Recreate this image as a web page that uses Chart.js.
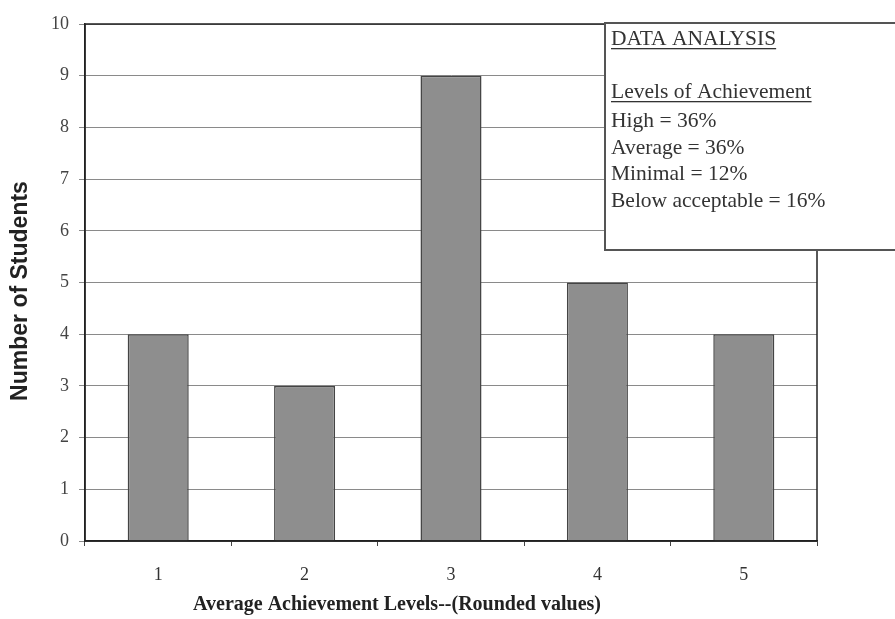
<!DOCTYPE html>
<html><head><meta charset="utf-8">
<script src="https://cdn.jsdelivr.net/npm/chart.js@4"></script>
<style>html,body{margin:0;padding:0;background:#fff}#wrap{width:895px;height:619px}</style>
</head><body><div id="wrap"><canvas id="c" width="895" height="619"></canvas></div>
<script>
const categories = ["1", "2", "3", "4", "5"];
const students = [4, 3, 9, 5, 4];
const yAxisTitle = "Number of Students";
const xAxisTitle = "Average Achievement Levels--(Rounded values)";
const boxHeadings = ["DATA ANALYSIS", "Levels of Achievement"];
const boxLines = ["High = 36%", "Average = 36%", "Minimal = 12%", "Below acceptable = 16%"];

const serif = "'Liberation Serif', 'Times New Roman', serif";
const sans = "'Liberation Sans', Arial, sans-serif";

const framePlugin = {
  id: 'frame',
  afterDatasetsDraw(chart) {
    const {ctx, chartArea: a} = chart;
    ctx.save();
    ctx.strokeStyle = '#222';
    ctx.lineWidth = 1.5;
    ctx.strokeRect(a.left, a.top, a.right - a.left, a.bottom - a.top);
    ctx.restore();
  },
  afterDraw(chart) {
    const {ctx} = chart;
    ctx.save();
    ctx.fillStyle = '#222';
    ctx.font = "bold 20px " + serif;
    ctx.textAlign = 'center';
    ctx.textBaseline = 'middle';
    ctx.fillText(xAxisTitle, 397, 605);
    ctx.translate(21, 291);
    ctx.rotate(-Math.PI / 2);
    ctx.font = "bold 23px " + sans;
    ctx.fillText(yAxisTitle, 0, 0);
    ctx.restore();

    ctx.save();
    const bx = 605, by = 23, bw = 300, bh = 227;
    ctx.fillStyle = '#fff';
    ctx.fillRect(bx, by, bw, bh);
    ctx.strokeStyle = '#555';
    ctx.lineWidth = 2;
    ctx.strokeRect(bx, by, bw, bh);
    ctx.fillStyle = '#333';
    ctx.font = "21.5px " + serif;
    ctx.textAlign = 'left';
    ctx.textBaseline = 'alphabetic';
    const tx = 611;
    const headY = [45, 98];
    boxHeadings.forEach((t, i) => {
      ctx.fillText(t, tx, headY[i]);
      const w = ctx.measureText(t).width;
      ctx.fillRect(tx, headY[i] + 3, w, 1.3);
    });
    boxLines.forEach((t, i) => {
      ctx.fillText(t, tx, 127 + i * 26.7);
    });
    ctx.restore();
  }
};

new Chart(document.getElementById('c'), {
  type: 'bar',
  data: {
    labels: categories,
    datasets: [{
      data: students,
      backgroundColor: '#8e8e8e',
      borderColor: '#444',
      borderWidth: 1.5,
      barPercentage: 0.417,
      categoryPercentage: 1.0
    }]
  },
  options: {
    responsive: false,
    animation: false,
    devicePixelRatio: 1,
    layout: {padding: {left: 0, right: 78, top: 24, bottom: 0}},
    plugins: {legend: {display: false}, tooltip: {enabled: false}},
    scales: {
      x: {
        offset: true,
        grid: {display: true, drawOnChartArea: false, drawTicks: true, tickLength: 5, color: '#444', offset: true},
        border: {display: true, color: '#222', width: 1.5},
        ticks: {padding: 18, color: '#333', font: {family: serif, size: 18}},
        afterFit(s) { s.height = 78; }
      },
      y: {
        min: 0, max: 10,
        ticks: {stepSize: 1, padding: 10, color: '#444', font: {family: serif, size: 18}},
        grid: {color: '#8a8a8a', lineWidth: 1, tickLength: 6, drawTicks: true},
        border: {display: true, color: '#222', width: 1.5},
        afterFit(s) { s.width = 85; }
      }
    }
  },
  plugins: [framePlugin]
});
</script>
</body></html>
